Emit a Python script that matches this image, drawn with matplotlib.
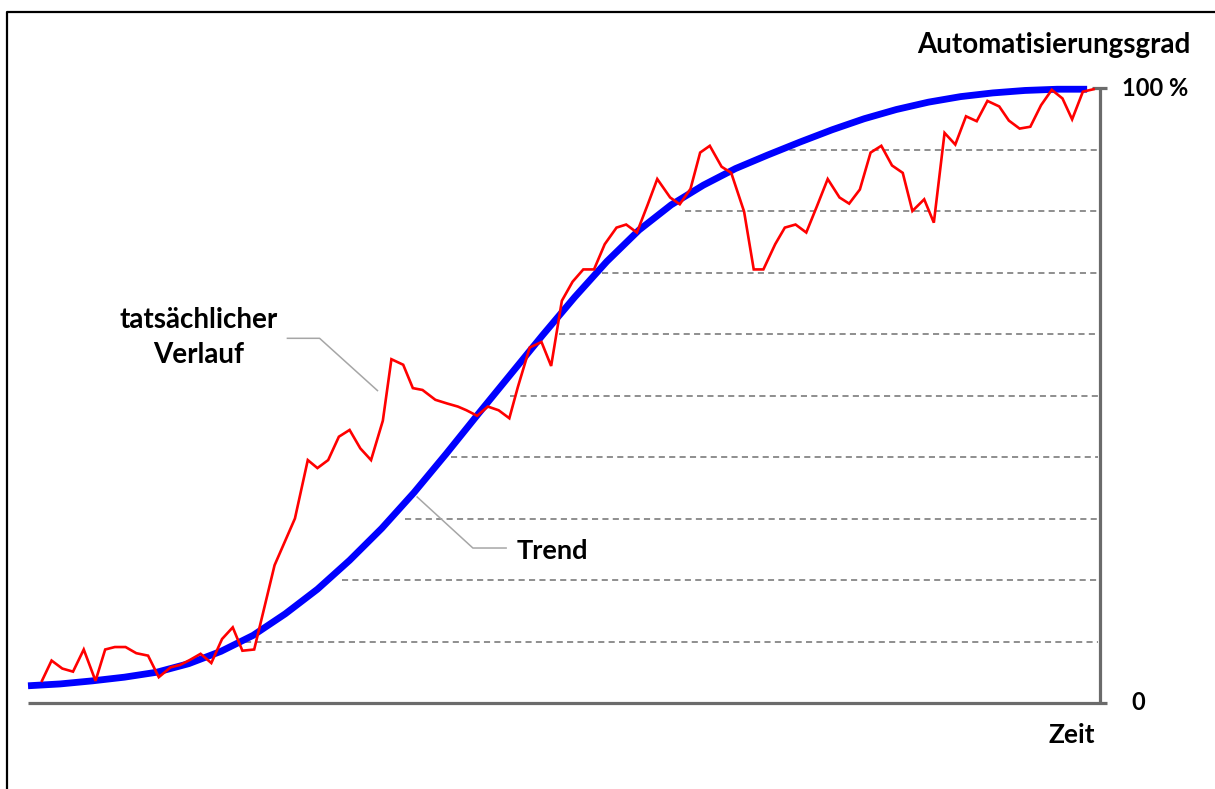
import matplotlib
matplotlib.use("Agg")
import matplotlib.pyplot as plt
from matplotlib.lines import Line2D

# Zeitachse 0..100, Automatisierungsgrad in %
actual_t = [1.3, 2.2, 3.2, 4.2, 5.2, 6.3, 7.2, 8.1, 9.1, 10.1, 11.2, 12.2, 13.3, 14.2, 15.1,
            16.1, 17.1, 18.1, 19.1, 20.0, 21.1, 23.0, 24.9,
            26.1, 27.0, 28.0, 29.0, 30.0, 31.0, 32.0, 33.1, 33.9, 35.0,
            35.9, 36.8, 38.0, 39.1, 40.1, 40.9, 41.9, 42.9, 43.9, 44.9,
            45.7, 46.8, 47.9, 48.8, 49.8, 50.8, 51.8, 52.8, 53.8, 54.9,
            55.8, 56.8, 57.8, 58.7, 59.9, 60.8, 61.8, 62.7, 63.6, 64.7,
            65.6, 66.8, 67.7, 68.6, 69.7, 70.6, 71.6, 72.6, 73.6, 74.6,
            75.7, 76.6, 77.6, 78.6, 79.6, 80.6, 81.6, 82.5, 83.6, 84.5,
            85.5, 86.5, 87.5, 88.5, 89.5, 90.6, 91.5, 92.5, 93.5, 94.5,
            95.5, 96.5, 97.4, 98.4, 99.4]
actual_v = [3.6, 6.9, 5.6, 5.1, 8.7, 3.6, 8.7, 9.1, 9.1, 8.1, 7.7, 4.2, 5.8, 6.2, 7.0,
            8.0, 6.5, 10.4, 12.3, 8.5, 8.7, 22.4, 30.0,
            39.5, 38.2, 39.5, 43.3, 44.4, 41.4, 39.5, 45.9, 55.9, 55.0,
            51.2, 50.9, 49.3, 48.7, 48.2, 47.6, 46.7, 48.2, 47.6, 46.3,
            51.4, 57.8, 58.7, 54.8, 65.4, 68.5, 70.5, 70.5, 74.6, 77.3,
            77.8, 76.5, 81.0, 85.2, 82.2, 81.1, 83.6, 89.5, 90.6, 87.2,
            86.2, 79.9, 70.5, 70.5, 74.6, 77.3, 77.8, 76.5, 80.8, 85.2,
            82.2, 81.2, 83.5, 89.5, 90.6, 87.4, 86.2, 80.0, 81.9, 78.1,
            92.7, 90.8, 95.4, 94.6, 97.9, 97.0, 94.7, 93.4, 93.7, 97.2,
            99.7, 98.3, 94.9, 99.4, 99.8]

trend_t = [0, 3, 6, 9, 12, 15, 18, 21, 24, 27, 30, 33, 36, 39, 42, 45, 48, 51,
           54, 57, 60, 63, 66, 69, 72, 75, 78, 81, 84, 87, 90, 93, 96, 98.8]
trend_v = [2.8, 3.1, 3.6, 4.2, 5.0, 6.4, 8.4, 11.0, 14.5, 18.5, 23.2, 28.4, 34.2,
           40.5, 47.0, 53.4, 59.8, 66.0, 71.8, 76.9, 81.0, 84.2, 86.9, 89.1,
           91.2, 93.2, 95.0, 96.5, 97.7, 98.6, 99.2, 99.6, 99.8, 99.8]

grid_levels = [10, 20, 30, 40, 50, 60, 70, 80, 90]
grid_start = [20.2, 29.3, 35.2, 39.5, 45.0, 49.5, 53.5, 61.3, 70.1]

W, H = 1215, 789
fig = plt.figure(figsize=(W / 100, H / 100), dpi=100)
fig.patch.set_facecolor("white")

# Achsenbereich so legen, dass 0..100 auf die Achsenlinien fällt
x0, x1, y0, y1 = 28, 1100, 703, 88
ax = fig.add_axes([x0 / W, 1 - y0 / H, (x1 - x0) / W, (y0 - y1) / H])
ax.set_xlim(0, 100)
ax.set_ylim(0, 100)
ax.axis("off")

font = "Lato"
gray_axis = "#6b6b6b"
gray_lead = "#a6a6a6"

# gestrichelte Hilfslinien
for lvl, st in zip(grid_levels, grid_start):
    ax.plot([st, 99.8], [lvl, lvl], color="#707070", lw=1.1,
            linestyle=(0, (4, 2.8)), zorder=1)

# Achsen
ax.plot([0, 100.65], [0, 0], color=gray_axis, lw=2.3, clip_on=False,
        solid_capstyle="butt", zorder=2)
ax.plot([100, 100], [0, 100], color=gray_axis, lw=2.3, clip_on=False,
        solid_capstyle="butt", zorder=2)
ax.plot([99.3, 100.65], [100, 100], color=gray_axis, lw=2.3, clip_on=False,
        solid_capstyle="butt", zorder=2)

# Kurven
ax.plot(trend_t, trend_v, color="#0000ff", lw=4.9, clip_on=False,
        solid_joinstyle="round", solid_capstyle="butt", zorder=3)
ax.plot(actual_t, actual_v, color="#ff0000", lw=1.9, clip_on=False,
        solid_joinstyle="miter", zorder=4)

# Beschriftungslinien
ax.plot([24.2, 27.2, 32.6], [59.3, 59.3, 50.8], color=gray_lead, lw=1.1, zorder=2)
ax.plot([36.3, 41.5, 44.6], [33.5, 25.2, 25.2], color=gray_lead, lw=1.1, zorder=2)

tk = dict(fontfamily=font, fontweight="bold", color="black")
ax.text(15.95, 61.0, "tatsächlicher", ha="center", va="baseline", fontsize=20, **tk)
ax.text(15.95, 55.3, "Verlauf", ha="center", va="baseline", fontsize=20, **tk)
ax.text(45.6, 23.4, "Trend", ha="left", va="baseline", fontsize=19.5, **tk)

ax.text(108.4, 107.0, "Automatisierungsgrad", ha="right", va="center",
        fontsize=20, clip_on=False, **tk)
ax.text(108.2, 100, "100 %", ha="right", va="center", fontsize=17, clip_on=False, **tk)
ax.text(103.6, 0, "0", ha="center", va="center", fontsize=17, clip_on=False, **tk)
ax.text(97.4, -5.2, "Zeit", ha="center", va="center", fontsize=19, clip_on=False, **tk)

# schwarzer Rahmen (oben und links)
fig.add_artist(Line2D([1.01, 7 / W, 7 / W], [1 - 12 / H, 1 - 12 / H, -0.01],
                      transform=fig.transFigure, color="black", lw=1.6))

fig.savefig("out.png", dpi=100, facecolor="white")
